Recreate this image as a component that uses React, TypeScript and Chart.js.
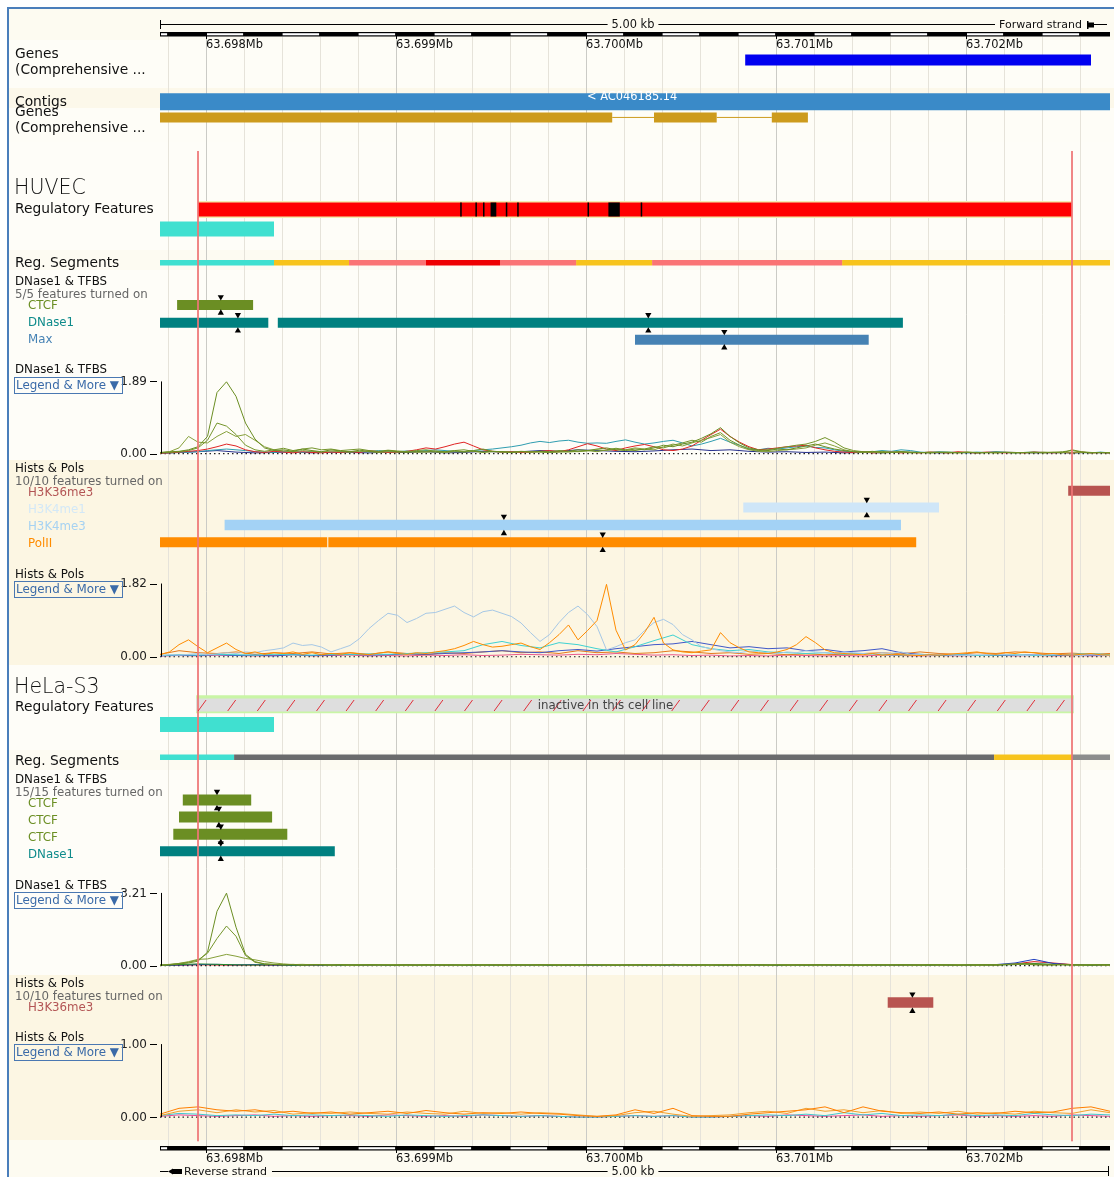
import React, { useEffect, useRef } from "react";
import { Chart, registerables } from "chart.js";

Chart.register(...registerables);

const W = 1114;
const H = 1177;
const X_START = 63.69776;
const X_END = 63.70276;

// ---------- ruler ----------
const MB_TICKS = [63.698, 63.699, 63.7, 63.701, 63.702];
const MB_LABELS = ["63.698Mb", "63.699Mb", "63.700Mb", "63.701Mb", "63.702Mb"];
const GRID_FIRST = 63.6978;
const GRID_STEP = 0.0002;
const SCALE_TEXT = "5.00 kb";

// ---------- annotation features [start, end] (Mb) ----------
const GENE_FWD = [[63.70084, 63.70266]];
const CONTIG = [[63.69776, 63.70276]];
const CONTIG_NAME = "< AC046185.14";
const GENE_REV_EXONS = [[63.6977, 63.70014], [63.70036, 63.70069], [63.70098, 63.70117]];
const GENE_REV_INTRONS = [[63.70014, 63.70036], [63.70069, 63.70098]];
const FOCUS_LINES = [63.69796, 63.70256];

// HUVEC
const HUVEC_REG = [[63.69796, 63.70256]];
const HUVEC_MOTIFS = [
  [63.69934, 63.699348], [63.69942, 63.699428], [63.69946, 63.699468], [63.6995, 63.69953],
  [63.69958, 63.699588], [63.69964, 63.699648], [63.70001, 63.700018], [63.70012, 63.70018],
  [63.70029, 63.700298],
];
const HUVEC_CTCF_REG = [[63.69776, 63.69836]];
const HUVEC_SEG_CTCF = [[63.69776, 63.69836]];
const HUVEC_SEG_WEAK = [[63.69836, 63.698755], [63.69995, 63.70035], [63.70135, 63.70276]];
const HUVEC_SEG_FLANK = [[63.698755, 63.69916], [63.69955, 63.69995], [63.70035, 63.70135]];
const HUVEC_SEG_PROM = [[63.69916, 63.69955]];
const HUVEC_CTCF = [[63.69785, 63.69825]];
const HUVEC_CTCF_MARKS = [63.69808];
const HUVEC_DNASE = [[63.69776, 63.69833], [63.69838, 63.70167]];
const HUVEC_DNASE_MARKS = [63.69817, 63.70033];
const HUVEC_MAX = [[63.70026, 63.70149]];
const HUVEC_MAX_MARKS = [63.70073];
const HUVEC_H3K36 = [[63.70254, 63.70276]];
const HUVEC_H3K4ME1 = [[63.70083, 63.70186]];
const HUVEC_H3K4ME1_MARKS = [63.70148];
const HUVEC_H3K4ME3 = [[63.6981, 63.70166]];
const HUVEC_H3K4ME3_MARKS = [63.69957];
const HUVEC_POLII = [[63.69776, 63.69864], [63.698646, 63.70174]];
const HUVEC_POLII_MARKS = [63.70009];

// HeLa-S3
const HELA_INACTIVE = [[63.69795, 63.70257]];
const HELA_CTCF_REG = [[63.69776, 63.69836]];
const HELA_SEG_CTCF = [[63.69776, 63.69815]];
const HELA_SEG_REPR = [[63.69815, 63.70215]];
const HELA_SEG_WEAK = [[63.70215, 63.70256]];
const HELA_SEG_NA = [[63.70256, 63.70276]];
const HELA_CTCF1 = [[63.69788, 63.69824]];
const HELA_CTCF2 = [[63.69786, 63.69835]];
const HELA_CTCF3 = [[63.69783, 63.69843]];
const HELA_CTCF_MARKS = [63.69806, 63.69807, 63.69808];
const HELA_DNASE = [[63.69776, 63.69868]];
const HELA_DNASE_MARKS = [63.69808];
const HELA_H3K36 = [[63.70159, 63.70183]];
const HELA_H3K36_MARKS = [63.70172];

// ---------- signal tracks (values evenly spaced across the 5 kb window) ----------
// HUVEC DNase1 & TFBS (max 1.89)
const HD_CTCF_A = [
  0.03, 0.05, 0.06, 0.10, 0.18, 0.45, 1.60, 1.88, 1.50, 0.80,
  0.38, 0.15, 0.08, 0.10, 0.06, 0.12, 0.08, 0.05, 0.10, 0.07,
  0.05, 0.09, 0.06, 0.04, 0.08, 0.05, 0.03, 0.06, 0.04, 0.07,
  0.05, 0.08, 0.10, 0.06, 0.04, 0.06, 0.05, 0.03, 0.05, 0.04,
  0.06, 0.05, 0.08, 0.06, 0.10, 0.08, 0.12, 0.15, 0.10, 0.08,
  0.12, 0.10, 0.15, 0.22, 0.18, 0.25, 0.30, 0.40, 0.52, 0.68,
  0.45, 0.28, 0.15, 0.10, 0.08, 0.12, 0.10, 0.15, 0.20, 0.25,
  0.18, 0.12, 0.08, 0.05, 0.04, 0.06, 0.03, 0.04, 0.05, 0.03,
  0.02, 0.04, 0.03, 0.02, 0.03, 0.04, 0.02, 0.03, 0.02, 0.03,
  0.02, 0.03, 0.04, 0.02, 0.03, 0.05, 0.08, 0.04, 0.02, 0.03, 0.02,
];
const HD_CTCF_B = [
  0.02, 0.03, 0.05, 0.08, 0.15, 0.35, 0.80, 0.72, 0.50, 0.22,
  0.10, 0.06, 0.10, 0.14, 0.08, 0.12, 0.15, 0.10, 0.12, 0.08,
  0.10, 0.12, 0.08, 0.06, 0.09, 0.07, 0.05, 0.08, 0.10, 0.06,
  0.04, 0.07, 0.05, 0.08, 0.12, 0.06, 0.05, 0.04, 0.06, 0.05,
  0.04, 0.03, 0.05, 0.04, 0.06, 0.08, 0.05, 0.10, 0.14, 0.10,
  0.08, 0.12, 0.18, 0.15, 0.22, 0.28, 0.35, 0.30, 0.45, 0.55,
  0.35, 0.22, 0.12, 0.08, 0.10, 0.14, 0.18, 0.22, 0.25, 0.32,
  0.42, 0.30, 0.15, 0.08, 0.05, 0.04, 0.06, 0.03, 0.05, 0.04,
  0.03, 0.02, 0.04, 0.03, 0.02, 0.04, 0.03, 0.02, 0.04, 0.03,
  0.02, 0.03, 0.02, 0.04, 0.03, 0.02, 0.10, 0.05, 0.03, 0.02, 0.03,
];
const HD_CTCF_C = [
  0.02, 0.05, 0.15, 0.45, 0.30, 0.28, 0.45, 0.58, 0.45, 0.50,
  0.35, 0.18, 0.10, 0.07, 0.05, 0.08, 0.06, 0.04, 0.07, 0.05,
  0.04, 0.06, 0.05, 0.03, 0.05, 0.04, 0.06, 0.03, 0.05, 0.04,
  0.03, 0.05, 0.04, 0.06, 0.03, 0.05, 0.04, 0.03, 0.05, 0.04,
  0.05, 0.03, 0.04, 0.06, 0.05, 0.07, 0.10, 0.08, 0.12, 0.10,
  0.15, 0.12, 0.10, 0.18, 0.25, 0.20, 0.28, 0.35, 0.42, 0.50,
  0.30, 0.18, 0.10, 0.06, 0.05, 0.08, 0.10, 0.12, 0.15, 0.22,
  0.28, 0.20, 0.10, 0.05, 0.03, 0.04, 0.02, 0.03, 0.04, 0.02,
  0.03, 0.02, 0.03, 0.04, 0.02, 0.03, 0.02, 0.03, 0.02, 0.04,
  0.03, 0.02, 0.03, 0.02, 0.04, 0.03, 0.02, 0.03, 0.02, 0.03, 0.02,
];
const HD_RED = [
  0.01, 0.02, 0.04, 0.06, 0.08, 0.12, 0.18, 0.25, 0.20, 0.10,
  0.05, 0.03, 0.06, 0.04, 0.02, 0.05, 0.03, 0.02, 0.04, 0.03,
  0.05, 0.03, 0.08, 0.05, 0.03, 0.04, 0.06, 0.10, 0.15, 0.12,
  0.18, 0.25, 0.30, 0.20, 0.10, 0.06, 0.04, 0.05, 0.03, 0.04,
  0.06, 0.08, 0.05, 0.10, 0.18, 0.26, 0.20, 0.12, 0.08, 0.15,
  0.20, 0.24, 0.18, 0.10, 0.08, 0.12, 0.20, 0.35, 0.50, 0.64,
  0.45, 0.30, 0.18, 0.10, 0.12, 0.15, 0.18, 0.20, 0.22, 0.15,
  0.10, 0.06, 0.04, 0.03, 0.05, 0.02, 0.03, 0.04, 0.02, 0.03,
  0.02, 0.04, 0.03, 0.02, 0.05, 0.03, 0.02, 0.04, 0.03, 0.02,
  0.03, 0.02, 0.04, 0.03, 0.02, 0.03, 0.02, 0.04, 0.02, 0.03, 0.02,
];
const HD_TEAL = [
  0.01, 0.02, 0.03, 0.04, 0.05, 0.08, 0.10, 0.12, 0.10, 0.08,
  0.05, 0.04, 0.03, 0.05, 0.04, 0.03, 0.06, 0.04, 0.03, 0.05,
  0.04, 0.06, 0.05, 0.08, 0.06, 0.05, 0.07, 0.06, 0.08, 0.10,
  0.08, 0.06, 0.05, 0.08, 0.10, 0.12, 0.15, 0.18, 0.22, 0.28,
  0.32, 0.29, 0.33, 0.35, 0.30, 0.27, 0.28, 0.27, 0.32, 0.36,
  0.30, 0.25, 0.28, 0.32, 0.35, 0.28, 0.20, 0.25, 0.32, 0.40,
  0.30, 0.22, 0.12, 0.10, 0.14, 0.12, 0.15, 0.18, 0.20, 0.16,
  0.15, 0.10, 0.06, 0.05, 0.04, 0.05, 0.08, 0.06, 0.10, 0.08,
  0.04, 0.03, 0.05, 0.04, 0.03, 0.02, 0.04, 0.03, 0.05, 0.03,
  0.02, 0.03, 0.04, 0.03, 0.02, 0.03, 0.02, 0.03, 0.02, 0.04, 0.02,
];
const HD_NAVY = [
  0.01, 0.03, 0.05, 0.08, 0.04, 0.02, 0.03, 0.05, 0.02, 0.04,
  0.03, 0.02, 0.04, 0.03, 0.05, 0.02, 0.03, 0.06, 0.04, 0.05,
  0.08, 0.06, 0.10, 0.08, 0.06, 0.05, 0.07, 0.10, 0.12, 0.08,
  0.10, 0.06, 0.04, 0.05, 0.03, 0.04, 0.02, 0.03, 0.02, 0.04,
  0.03, 0.02, 0.03, 0.02, 0.04, 0.03, 0.02, 0.03, 0.02, 0.03, 0.02,
];

// HUVEC Hists & Pols (max 1.82)
const HH_H3K4ME3 = [
  0.03, 0.05, 0.04, 0.06, 0.08, 0.05, 0.07, 0.10, 0.08, 0.12,
  0.10, 0.15, 0.18, 0.22, 0.34, 0.28, 0.30, 0.24, 0.12, 0.20,
  0.28, 0.45, 0.70, 0.90, 1.08, 1.03, 0.85, 0.95, 1.08, 1.10,
  1.18, 1.26, 1.10, 0.99, 1.12, 1.16, 1.08, 1.00, 0.84, 0.60,
  0.38, 0.55, 0.85, 1.10, 1.26, 1.05, 0.75, 0.17, 0.25, 0.35,
  0.42, 0.65, 0.85, 0.93, 0.80, 0.55, 0.42, 0.25, 0.20, 0.15,
  0.12, 0.10, 0.14, 0.12, 0.10, 0.08, 0.12, 0.10, 0.15, 0.12,
  0.10, 0.08, 0.12, 0.10, 0.08, 0.06, 0.10, 0.08, 0.12, 0.06,
  0.05, 0.04, 0.06, 0.05, 0.04, 0.03, 0.05, 0.04, 0.06, 0.05,
  0.04, 0.03, 0.05, 0.04, 0.06, 0.05, 0.04, 0.03, 0.05, 0.04, 0.03,
];
const HH_POLII = [
  0.05, 0.12, 0.30, 0.42, 0.25, 0.10, 0.22, 0.34, 0.18, 0.08,
  0.12, 0.06, 0.10, 0.08, 0.12, 0.06, 0.10, 0.05, 0.08, 0.06,
  0.10, 0.07, 0.05, 0.09, 0.12, 0.08, 0.06, 0.10, 0.08, 0.12,
  0.15, 0.20, 0.28, 0.38, 0.30, 0.24, 0.26, 0.30, 0.34, 0.25,
  0.18, 0.35, 0.55, 0.79, 0.42, 0.65, 0.90, 1.80, 0.66, 0.17,
  0.30, 0.60, 0.98, 0.34, 0.17, 0.12, 0.10, 0.14, 0.17, 0.60,
  0.35, 0.22, 0.12, 0.10, 0.08, 0.12, 0.18, 0.30, 0.50, 0.35,
  0.17, 0.10, 0.08, 0.06, 0.05, 0.08, 0.04, 0.06, 0.05, 0.04,
  0.03, 0.05, 0.04, 0.06, 0.08, 0.10, 0.12, 0.08, 0.06, 0.10,
  0.08, 0.12, 0.10, 0.06, 0.08, 0.05, 0.04, 0.06, 0.08, 0.05, 0.04,
];
const HH_CYAN = [
  0.03, 0.05, 0.04, 0.06, 0.05, 0.04, 0.06, 0.05, 0.04, 0.06,
  0.05, 0.07, 0.06, 0.08, 0.10, 0.12, 0.15, 0.30, 0.38, 0.28,
  0.22, 0.35, 0.30, 0.20, 0.12, 0.25, 0.40, 0.54, 0.30, 0.20,
  0.15, 0.18, 0.12, 0.10, 0.08, 0.10, 0.06, 0.08, 0.05, 0.04,
  0.06, 0.04, 0.05, 0.03, 0.04, 0.05, 0.03, 0.04, 0.06, 0.08, 0.05,
];
const HH_BLUE = [
  0.02, 0.04, 0.03, 0.05, 0.03, 0.04, 0.02, 0.05, 0.03, 0.04,
  0.06, 0.04, 0.05, 0.07, 0.06, 0.08, 0.10, 0.12, 0.15, 0.12,
  0.10, 0.15, 0.18, 0.14, 0.20, 0.25, 0.30, 0.32, 0.38, 0.30,
  0.22, 0.25, 0.20, 0.22, 0.15, 0.18, 0.12, 0.15, 0.20, 0.10,
  0.06, 0.04, 0.05, 0.03, 0.04, 0.03, 0.05, 0.04, 0.03, 0.04, 0.03,
];
const HH_BROWN = [
  0.06, 0.15, 0.10, 0.08, 0.12, 0.06, 0.10, 0.08, 0.12, 0.07,
  0.10, 0.06, 0.12, 0.08, 0.05, 0.10, 0.08, 0.12, 0.15, 0.10,
  0.12, 0.08, 0.15, 0.10, 0.12, 0.08, 0.10, 0.15, 0.12, 0.08,
  0.10, 0.06, 0.08, 0.05, 0.07, 0.05, 0.06, 0.08, 0.10, 0.07,
  0.12, 0.08, 0.06, 0.10, 0.08, 0.12, 0.10, 0.07, 0.09, 0.06, 0.08,
];
const HH_PINK = [
  0.02, 0.03, 0.02, 0.04, 0.03, 0.02, 0.03, 0.05, 0.02, 0.03,
  0.04, 0.02, 0.03, 0.02, 0.04, 0.03, 0.05, 0.03, 0.04, 0.06,
  0.05, 0.04, 0.06, 0.05, 0.08, 0.06, 0.04, 0.05, 0.03, 0.04,
  0.02, 0.03, 0.02, 0.04, 0.03, 0.02, 0.03, 0.02, 0.04, 0.03,
  0.02, 0.03, 0.02, 0.03, 0.04, 0.02, 0.03, 0.02, 0.03, 0.02, 0.03,
];

// HeLa-S3 DNase1 & TFBS (max 3.21)
const LD_CTCF_A = [
  0.02, 0.04, 0.08, 0.12, 0.20, 0.60, 2.40, 3.20, 1.70, 0.50,
  0.18, 0.08, 0.05, 0.04, 0.06, 0.03, 0.05, 0.04, 0.03, 0.05,
  0.04, 0.03, 0.05, 0.04, 0.03, 0.02, 0.04, 0.03, 0.05, 0.03,
  0.02, 0.04, 0.03, 0.05, 0.03, 0.04, 0.02, 0.03, 0.04, 0.03,
  0.05, 0.03, 0.02, 0.04, 0.03, 0.05, 0.04, 0.03, 0.02, 0.04,
  0.03, 0.05, 0.04, 0.03, 0.06, 0.04, 0.03, 0.05, 0.04, 0.03,
  0.04, 0.02, 0.03, 0.05, 0.04, 0.03, 0.02, 0.04, 0.03, 0.05,
  0.04, 0.03, 0.05, 0.04, 0.02, 0.03, 0.04, 0.03, 0.05, 0.04,
  0.03, 0.05, 0.04, 0.03, 0.02, 0.04, 0.03, 0.05, 0.04, 0.06,
  0.08, 0.10, 0.07, 0.05, 0.04, 0.06, 0.05, 0.04, 0.03, 0.05, 0.04,
];
const LD_CTCF_B = [
  0.02, 0.05, 0.10, 0.15, 0.25, 0.55, 1.20, 1.75, 1.30, 0.45,
  0.15, 0.08, 0.06, 0.04, 0.05, 0.03, 0.04, 0.05, 0.03, 0.04,
  0.03, 0.05, 0.02, 0.04, 0.03, 0.05, 0.04, 0.02, 0.03, 0.04,
  0.05, 0.03, 0.04, 0.02, 0.05, 0.03, 0.04, 0.03, 0.02, 0.04,
  0.03, 0.04, 0.05, 0.03, 0.02, 0.04, 0.03, 0.05, 0.04, 0.03,
  0.05, 0.04, 0.02, 0.04, 0.03, 0.05, 0.04, 0.02, 0.03, 0.05,
  0.03, 0.04, 0.05, 0.03, 0.02, 0.04, 0.05, 0.03, 0.04, 0.02,
  0.05, 0.04, 0.03, 0.02, 0.04, 0.05, 0.03, 0.04, 0.02, 0.03,
  0.04, 0.03, 0.05, 0.04, 0.02, 0.03, 0.05, 0.04, 0.03, 0.05,
  0.06, 0.08, 0.05, 0.04, 0.03, 0.05, 0.04, 0.03, 0.05, 0.04, 0.03,
];
const LD_CTCF_C = [
  0.03, 0.06, 0.10, 0.18, 0.28, 0.30, 0.40, 0.50, 0.42, 0.32,
  0.26, 0.18, 0.12, 0.08, 0.05, 0.06, 0.04, 0.05, 0.03, 0.04,
  0.02, 0.03, 0.04, 0.02, 0.05, 0.03, 0.02, 0.04, 0.03, 0.02,
  0.04, 0.02, 0.03, 0.05, 0.02, 0.04, 0.03, 0.02, 0.04, 0.03,
  0.02, 0.05, 0.03, 0.04, 0.02, 0.03, 0.05, 0.02, 0.04, 0.03,
  0.02, 0.04, 0.03, 0.05, 0.03, 0.02, 0.04, 0.03, 0.02, 0.04,
  0.05, 0.03, 0.02, 0.04, 0.03, 0.05, 0.02, 0.03, 0.04, 0.03,
  0.02, 0.04, 0.03, 0.05, 0.03, 0.02, 0.04, 0.03, 0.05, 0.02,
  0.03, 0.04, 0.02, 0.03, 0.05, 0.04, 0.02, 0.03, 0.04, 0.06,
  0.05, 0.07, 0.04, 0.03, 0.05, 0.04, 0.03, 0.02, 0.04, 0.03, 0.02,
];
const LD_GREEN = [
  0.02, 0.05, 0.08, 0.06, 0.04, 0.03, 0.05, 0.02, 0.04, 0.03,
  0.02, 0.04, 0.03, 0.02, 0.03, 0.04, 0.02, 0.03, 0.02, 0.04,
  0.03, 0.02, 0.04, 0.03, 0.02, 0.03, 0.02, 0.04, 0.03, 0.02,
  0.03, 0.04, 0.02, 0.03, 0.02, 0.04, 0.03, 0.02, 0.03, 0.04,
  0.02, 0.03, 0.04, 0.02, 0.03, 0.05, 0.10, 0.06, 0.03, 0.02, 0.04,
];
const LD_BLUE = [
  0.01, 0.03, 0.05, 0.06, 0.04, 0.05, 0.03, 0.02, 0.03, 0.02,
  0.03, 0.02, 0.01, 0.03, 0.02, 0.03, 0.01, 0.02, 0.03, 0.02,
  0.01, 0.02, 0.03, 0.01, 0.02, 0.03, 0.02, 0.01, 0.03, 0.02,
  0.04, 0.02, 0.03, 0.01, 0.02, 0.03, 0.02, 0.04, 0.02, 0.03,
  0.02, 0.03, 0.02, 0.04, 0.05, 0.12, 0.28, 0.10, 0.04, 0.03, 0.05,
];
const LD_RED = [
  0.01, 0.02, 0.04, 0.03, 0.02, 0.03, 0.02, 0.01, 0.02, 0.03,
  0.02, 0.01, 0.02, 0.04, 0.02, 0.03, 0.01, 0.02, 0.05, 0.02,
  0.03, 0.02, 0.01, 0.02, 0.03, 0.02, 0.04, 0.02, 0.01, 0.02,
  0.03, 0.04, 0.02, 0.03, 0.05, 0.02, 0.03, 0.02, 0.04, 0.02,
  0.03, 0.02, 0.04, 0.02, 0.03, 0.08, 0.18, 0.12, 0.05, 0.02, 0.03,
];

// HeLa-S3 Hists & Pols (max 1.00)
const LH_ORANGE_A = [
  0.04, 0.12, 0.14, 0.10, 0.08, 0.10, 0.06, 0.08, 0.05, 0.07,
  0.04, 0.06, 0.08, 0.05, 0.09, 0.06, 0.04, 0.06, 0.05, 0.07,
  0.05, 0.04, 0.02, 0.01, 0.03, 0.10, 0.05, 0.12, 0.02, 0.01,
  0.01, 0.04, 0.06, 0.08, 0.10, 0.14, 0.06, 0.14, 0.08, 0.06,
  0.05, 0.07, 0.04, 0.06, 0.05, 0.08, 0.06, 0.07, 0.12, 0.14, 0.08,
];
const LH_ORANGE_B = [
  0.02, 0.08, 0.10, 0.06, 0.10, 0.07, 0.09, 0.04, 0.06, 0.05,
  0.07, 0.05, 0.04, 0.07, 0.05, 0.04, 0.08, 0.05, 0.06, 0.04,
  0.06, 0.05, 0.03, 0.01, 0.02, 0.06, 0.08, 0.04, 0.01, 0.02,
  0.03, 0.06, 0.08, 0.05, 0.12, 0.08, 0.10, 0.06, 0.09, 0.05,
  0.07, 0.05, 0.08, 0.04, 0.06, 0.04, 0.08, 0.06, 0.05, 0.10, 0.06,
];
const LH_PINK = [
  0.01, 0.03, 0.02, 0.01, 0.02, 0.03, 0.01, 0.02, 0.01, 0.02,
  0.02, 0.01, 0.03, 0.02, 0.01, 0.02, 0.01, 0.03, 0.02, 0.01,
  0.02, 0.01, 0.00, 0.00, 0.01, 0.02, 0.01, 0.02, 0.00, 0.00,
  0.01, 0.02, 0.01, 0.03, 0.02, 0.01, 0.02, 0.03, 0.01, 0.02,
  0.01, 0.02, 0.03, 0.01, 0.02, 0.01, 0.02, 0.01, 0.03, 0.02, 0.01,
];
const LH_CYAN = [
  0.02, 0.05, 0.04, 0.02, 0.03, 0.02, 0.04, 0.02, 0.03, 0.02,
  0.03, 0.02, 0.01, 0.03, 0.02, 0.01, 0.02, 0.03, 0.02, 0.01,
  0.02, 0.01, 0.00, 0.00, 0.01, 0.02, 0.01, 0.02, 0.00, 0.00,
  0.01, 0.02, 0.03, 0.02, 0.04, 0.02, 0.06, 0.03, 0.05, 0.02,
  0.03, 0.02, 0.04, 0.02, 0.03, 0.02, 0.05, 0.03, 0.02, 0.04, 0.03,
];

// signal track axis maxima
const HD_MAX = 1.89;
const HH_MAX = 1.82;
const LD_MAX = 3.21;
const LH_MAX = 1.0;

// ---------- layout (pixels) ----------
const FONT = "'DejaVu Sans', 'Noto Sans', sans-serif";

function sigRange(zeroPx: number, topPx: number, topVal: number) {
  const k = topVal / (zeroPx - topPx);
  return { min: -(H - zeroPx) * k, max: zeroPx * k };
}

function spans(ranges: number[][], row: number) {
  const out: any[] = [];
  ranges.forEach(([s, e], i) => {
    if (i > 0) out.push({ x: s, y: null });
    out.push({ x: s, y: row }, { x: e, y: row });
  });
  return out;
}

function series(values: number[]) {
  const n = values.length - 1;
  return values.map((v, i) => ({ x: X_START + ((X_END - X_START) * i) / n, y: v }));
}

function bar(ranges: number[][], row: number, width: number, color: string) {
  return {
    type: "line",
    data: spans(ranges, row),
    yAxisID: "yRow",
    borderColor: color,
    borderWidth: width,
    borderCapStyle: "butt",
    pointRadius: 0,
    tension: 0,
    spanGaps: false,
    fill: false,
  };
}

function marks(positions: number[], top: number, bottom: number) {
  const mk = (y: number, rot: number) => ({
    type: "line",
    data: positions.map((x) => ({ x, y })),
    yAxisID: "yRow",
    showLine: false,
    pointStyle: "triangle",
    pointRotation: rot,
    pointRadius: 3.6,
    pointBackgroundColor: "#000",
    pointBorderColor: "#000",
    pointBorderWidth: 0,
  });
  return [mk(top, 180), mk(bottom, 0)];
}

function sig(values: number[], axis: string, color: string) {
  return {
    type: "line",
    data: series(values),
    yAxisID: axis,
    borderColor: color,
    borderWidth: 1,
    pointRadius: 0,
    tension: 0,
    fill: false,
  };
}

function baseline(axis: string) {
  return {
    type: "line",
    data: [{ x: X_START, y: 0 }, { x: X_END, y: 0 }],
    yAxisID: axis,
    borderColor: "#222",
    borderWidth: 1.2,
    borderDash: [1.5, 3],
    pointRadius: 0,
    fill: false,
  };
}

const SIG_AXES = {
  ySigHD: { zero: 452.7, top: 380, max: HD_MAX, label: "1.89" },
  ySigHH: { zero: 657.2, top: 583.5, max: HH_MAX, label: "1.82" },
  ySigLD: { zero: 968.3, top: 895, max: LD_MAX, label: "3.21" },
  ySigLH: { zero: 1120.7, top: 1047.2, max: LH_MAX, label: "1.00" },
};

type Lbl = [string, number, number, string, string];
const F_MAIN = `13.8px ${FONT}`;
const F_SMALL = `11.8px ${FONT}`;
const F_BIG = `200 20.5px ${FONT}`;
const LABELS: Lbl[] = [
  ["Genes", 15, 54, F_MAIN, "#111"],
  ["(Comprehensive ...", 15, 70, F_MAIN, "#111"],
  ["Contigs", 15, 102, F_MAIN, "#111"],
  ["Genes", 15, 112, F_MAIN, "#111"],
  ["(Comprehensive ...", 15, 128, F_MAIN, "#111"],
  ["HUVEC", 14, 189, F_BIG, "#111"],
  ["Regulatory Features", 15, 209.5, F_MAIN, "#111"],
  ["Reg. Segments", 15, 263.5, F_MAIN, "#111"],
  ["DNase1 & TFBS", 15, 282, F_SMALL, "#111"],
  ["5/5 features turned on", 15, 294.5, F_SMALL, "#666"],
  ["CTCF", 28, 305.5, F_SMALL, "#6b8e23"],
  ["DNase1", 28, 322.5, F_SMALL, "#0f8b8b"],
  ["Max", 28, 340, F_SMALL, "#4682b4"],
  ["DNase1 & TFBS", 15, 370, F_SMALL, "#111"],
  ["Hists & Pols", 15, 468.5, F_SMALL, "#111"],
  ["10/10 features turned on", 15, 482, F_SMALL, "#666"],
  ["H3K36me3", 28, 493, F_SMALL, "#b35555"],
  ["H3K4me1", 28, 510, F_SMALL, "#d3e8f7"],
  ["H3K4me3", 28, 527, F_SMALL, "#a6d2f2"],
  ["PolII", 28, 544, F_SMALL, "#ff8c00"],
  ["Hists & Pols", 15, 575, F_SMALL, "#111"],
  ["HeLa-S3", 14, 688, F_BIG, "#111"],
  ["Regulatory Features", 15, 707.5, F_MAIN, "#111"],
  ["Reg. Segments", 15, 761.5, F_MAIN, "#111"],
  ["DNase1 & TFBS", 15, 780, F_SMALL, "#111"],
  ["15/15 features turned on", 15, 792.5, F_SMALL, "#666"],
  ["CTCF", 28, 803.5, F_SMALL, "#6b8e23"],
  ["CTCF", 28, 821, F_SMALL, "#6b8e23"],
  ["CTCF", 28, 837.5, F_SMALL, "#6b8e23"],
  ["DNase1", 28, 855, F_SMALL, "#0f8b8b"],
  ["DNase1 & TFBS", 15, 886, F_SMALL, "#111"],
  ["Hists & Pols", 15, 984, F_SMALL, "#111"],
  ["10/10 features turned on", 15, 996.5, F_SMALL, "#666"],
  ["H3K36me3", 28, 1008, F_SMALL, "#b35555"],
  ["Hists & Pols", 15, 1038, F_SMALL, "#111"],
];
const LEGEND_BOXES = [386, 590, 901, 1053];

const BANDS: [number, number, string][] = [
  [9, 40, "#fdfbf1"],
  [40, 88, "#fefdf7"],
  [88, 108, "#fcf8ea"],
  [108, 142, "#fefdf7"],
  [142, 250, "#fefdf8"],
  [250, 270, "#fdfbf2"],
  [270, 460, "#fefdf8"],
  [460, 665, "#fcf6e3"],
  [665, 750, "#fefdf8"],
  [750, 770, "#fdfbf2"],
  [770, 975, "#fefdf8"],
  [975, 1140, "#fcf6e3"],
  [1140, 1177, "#fdfbf1"],
];

const decor = {
  id: "decor",
  beforeDraw(chart: any) {
    const ctx = chart.ctx;
    ctx.save();
    ctx.fillStyle = "#ffffff";
    ctx.fillRect(0, 0, W, H);
    for (const [a, b, c] of BANDS) {
      ctx.fillStyle = c;
      ctx.fillRect(9, a, W - 9, b - a);
    }
    ctx.fillStyle = "#4a7ebb";
    ctx.fillRect(7, 7, 2, H - 7);
    ctx.fillRect(7, 7, W - 7, 2);
    ctx.restore();
  },
  beforeDatasetsDraw(chart: any) {
    const ctx = chart.ctx;
    const xs = chart.scales.x;
    ctx.save();
    for (let k = 0; GRID_FIRST + k * GRID_STEP <= X_END + 1e-9; k++) {
      const v = GRID_FIRST + k * GRID_STEP;
      const major = MB_TICKS.some((t) => Math.abs(t - v) < 1e-7);
      const px = Math.round(xs.getPixelForValue(v)) + 0.5;
      ctx.strokeStyle = major ? "#cbcbc6" : "#e6e3da";
      ctx.lineWidth = 1;
      ctx.beginPath();
      ctx.moveTo(px, 37);
      ctx.lineTo(px, 1146);
      ctx.stroke();
    }
    ctx.restore();
  },
  afterDatasetsDraw(chart: any) {
    const ctx = chart.ctx;
    const xs = chart.scales.x;
    const L = xs.getPixelForValue(X_START);
    const R = xs.getPixelForValue(X_END);
    ctx.save();

    // ----- rulers -----
    const rulerBar = (yTop: number, labelY: number) => {
      ctx.fillStyle = "#000";
      ctx.fillRect(L, yTop, R - L, 4.5);
      ctx.fillStyle = "#fff";
      for (let v = GRID_FIRST - GRID_STEP; v < X_END; v += 2 * GRID_STEP) {
        const a = Math.max(v, X_START);
        const b = Math.min(v + GRID_STEP, X_END);
        const pa = xs.getPixelForValue(a);
        const pb = xs.getPixelForValue(b);
        ctx.fillRect(pa + 1, yTop + 1.2, pb - pa - 1.5, 2.1);
      }
      ctx.fillStyle = "#000";
      ctx.font = `11.4px ${FONT}`;
      ctx.textBaseline = "middle";
      ctx.textAlign = "left";
      MB_TICKS.forEach((t, i) => {
        const px = Math.round(xs.getPixelForValue(t));
        ctx.fillRect(px, yTop, 1, 7);
        ctx.fillStyle = "#111";
        ctx.fillText(MB_LABELS[i], px, labelY);
        ctx.fillStyle = "#000";
      });
    };
    rulerBar(32, 45);
    rulerBar(1146, 1159.5);

    // scale line top
    ctx.font = `11.4px ${FONT}`;
    ctx.textBaseline = "middle";
    const mid = xs.getPixelForValue((X_START + X_END) / 2) - 2;
    const sw = ctx.measureText(SCALE_TEXT).width;
    ctx.strokeStyle = "#000";
    ctx.lineWidth = 1;
    const hline = (a: number, b: number, y: number) => {
      ctx.beginPath();
      ctx.moveTo(a, y + 0.5);
      ctx.lineTo(b, y + 0.5);
      ctx.stroke();
    };
    const fwd = "Forward strand";
    ctx.font = `11px ${FONT}`;
    const fw = ctx.measureText(fwd).width;
    hline(L, mid - sw / 2 - 4, 24);
    hline(mid + sw / 2 + 4, 1082 - fw - 4, 24);
    ctx.fillStyle = "#111";
    ctx.textAlign = "right";
    ctx.fillText(fwd, 1082, 25);
    ctx.font = `11.4px ${FONT}`;
    ctx.textAlign = "center";
    ctx.fillText(SCALE_TEXT, mid, 25);
    ctx.fillStyle = "#000";
    ctx.fillRect(1087, 21, 1.5, 8);
    ctx.fillRect(1088, 22.5, 6, 5);
    hline(1094, R - 3, 24);
    ctx.fillRect(L, 20, 1, 9);

    // scale line bottom
    ctx.font = `11px ${FONT}`;
    const rev = "Reverse strand";
    const rw = ctx.measureText(rev).width;
    hline(L, 168, 1171);
    ctx.beginPath();
    ctx.moveTo(168, 1171.5);
    ctx.lineTo(173, 1168.5);
    ctx.lineTo(173, 1174.5);
    ctx.closePath();
    ctx.fill();
    ctx.fillRect(173, 1169, 9, 5);
    ctx.fillStyle = "#111";
    ctx.textAlign = "left";
    ctx.fillText(rev, 184, 1172);
    hline(184 + rw + 5, mid - sw / 2 - 4, 1171);
    ctx.font = `11.4px ${FONT}`;
    ctx.textAlign = "center";
    ctx.fillText(SCALE_TEXT, mid, 1172);
    hline(mid + sw / 2 + 4, R - 1, 1171);
    ctx.fillStyle = "#000";
    ctx.fillRect(R - 2, 1166, 1, 10);

    // contig name
    ctx.fillStyle = "#ffffff";
    ctx.font = `11.4px ${FONT}`;
    ctx.textAlign = "left";
    ctx.fillText(CONTIG_NAME, 587, 97.5);

    // inactive hatching + text
    const ia = xs.getPixelForValue(HELA_INACTIVE[0][0]);
    const ib = xs.getPixelForValue(HELA_INACTIVE[0][1]);
    ctx.strokeStyle = "#e0303a";
    ctx.lineWidth = 1;
    for (let px = ia + 2; px < ib - 10; px += 29.6) {
      ctx.beginPath();
      ctx.moveTo(px, 711);
      ctx.lineTo(px + 8, 700);
      ctx.stroke();
    }
    ctx.fillStyle = "#444";
    ctx.font = `11.8px ${FONT}`;
    ctx.textAlign = "center";
    ctx.fillText("inactive in this cell line", 605.5, 705.5);

    // left labels
    ctx.textAlign = "left";
    ctx.textBaseline = "middle";
    for (const [t, x, y, f, c] of LABELS) {
      ctx.font = f;
      ctx.fillStyle = c;
      ctx.fillText(t, x, y);
    }

    // signal axes
    for (const id of Object.keys(SIG_AXES)) {
      const s = (SIG_AXES as any)[id];
      const sc = chart.scales[id];
      const p0 = sc.getPixelForValue(0);
      const p1 = sc.getPixelForValue(s.max);
      ctx.fillStyle = "#000";
      ctx.fillRect(161, p1, 1, p0 - p1);
      ctx.fillRect(150, Math.round(p1), 7, 1);
      ctx.fillRect(150, Math.round(p0), 7, 1);
      ctx.font = `12px ${FONT}`;
      ctx.textAlign = "right";
      ctx.fillStyle = "#222";
      ctx.fillText(s.label, 147, p1 + 0.5);
      ctx.fillText("0.00", 147, p0 + 0.5);
    }

    // legend boxes
    for (const y of LEGEND_BOXES) {
      ctx.strokeStyle = "#4a78b2";
      ctx.lineWidth = 1;
      ctx.strokeRect(14.5, y - 8.5, 108, 16);
      ctx.fillStyle = "#3a6aa8";
      ctx.font = `11.9px ${FONT}`;
      ctx.textAlign = "left";
      ctx.fillText("Legend & More \u25BC", 16, y);
    }
    ctx.restore();
  },
};

export default function App() {
  const ref = useRef<HTMLCanvasElement | null>(null);

  useEffect(() => {
    if (!ref.current) return;
    const paint: any[] = [];
    // reg segments
    paint.push(bar(HUVEC_SEG_CTCF, 260.5, 5.5, "#40e0d0"));
    paint.push(bar(HUVEC_SEG_WEAK, 260.5, 5.5, "#f7c31a"));
    paint.push(bar(HUVEC_SEG_FLANK, 260.5, 5.5, "#fa7373"));
    paint.push(bar(HUVEC_SEG_PROM, 260.5, 5.5, "#ee0000"));
    paint.push(bar(HELA_SEG_CTCF, 758.5, 5.5, "#40e0d0"));
    paint.push(bar(HELA_SEG_REPR, 758.5, 5.5, "#6a6a6a"));
    paint.push(bar(HELA_SEG_WEAK, 758.5, 5.5, "#f7c31a"));
    paint.push(bar(HELA_SEG_NA, 758.5, 5.5, "#8c8c8c"));
    // genes + contig
    paint.push(bar(GENE_FWD, 56.3, 11, "#0000f0"));
    paint.push(bar(CONTIG, 98.5, 17, "#3a8ac8"));
    paint.push(bar(GENE_REV_INTRONS, 114.2, 1, "#cd9b1d"));
    paint.push(bar(GENE_REV_EXONS, 114.2, 10, "#cd9b1d"));
    // regulatory features
    paint.push(bar(HUVEC_REG, 206.8, 17, "#f3ecb0"));
    paint.push(bar(HUVEC_REG, 206.8, 14, "#ff0000"));
    paint.push(bar(HUVEC_MOTIFS, 206.8, 14, "#000000"));
    paint.push(bar(HUVEC_CTCF_REG, 226.5, 15, "#40e0d0"));
    paint.push(bar(HELA_INACTIVE, 705, 18, "#c9f5a6"));
    paint.push(bar(HELA_INACTIVE, 705.8, 13, "#dedede"));
    paint.push(bar(HELA_CTCF_REG, 725.5, 15, "#40e0d0"));
    // HUVEC DNase1 & TFBS features
    paint.push(bar(HUVEC_CTCF, 303, 10, "#6b8e23"));
    paint.push(bar(HUVEC_DNASE, 321, 10, "#008080"));
    paint.push(bar(HUVEC_MAX, 338, 10, "#4682b4"));
    // HUVEC hists features
    paint.push(bar(HUVEC_H3K36, 490, 10, "#b85450"));
    paint.push(bar(HUVEC_H3K4ME1, 507, 10, "#cfe6f8"));
    paint.push(bar(HUVEC_H3K4ME3, 524.5, 10.5, "#a3d2f5"));
    paint.push(bar(HUVEC_POLII, 542, 10, "#ff8c00"));
    // HeLa features
    paint.push(bar(HELA_CTCF1, 801.5, 11, "#6b8e23"));
    paint.push(bar(HELA_CTCF2, 818.5, 11, "#6b8e23"));
    paint.push(bar(HELA_CTCF3, 836, 11, "#6b8e23"));
    paint.push(bar(HELA_DNASE, 853, 10, "#008080"));
    paint.push(bar(HELA_H3K36, 1005.3, 10.5, "#b85450"));
    // signals: HUVEC DNase
    paint.push(sig(HD_NAVY, "ySigHD", "#26308e"));
    paint.push(baseline("ySigHD"));
    paint.push(sig(HD_TEAL, "ySigHD", "#2f9db0"));
    paint.push(sig(HD_RED, "ySigHD", "#e02424"));
    paint.push(sig(HD_CTCF_C, "ySigHD", "#86a03a"));
    paint.push(sig(HD_CTCF_B, "ySigHD", "#74952b"));
    paint.push(sig(HD_CTCF_A, "ySigHD", "#6b8e23"));
    // HUVEC hists
    paint.push(sig(HH_PINK, "ySigHH", "#ea5a8c"));
    paint.push(baseline("ySigHH"));
    paint.push(sig(HH_BROWN, "ySigHH", "#e4781a"));
    paint.push(sig(HH_BLUE, "ySigHH", "#4058c8"));
    paint.push(sig(HH_CYAN, "ySigHH", "#3fd2d2"));
    paint.push(sig(HH_H3K4ME3, "ySigHH", "#a6c8e6"));
    paint.push(sig(HH_POLII, "ySigHH", "#ff8c00"));
    // HeLa DNase
    paint.push(sig(LD_RED, "ySigLD", "#d82020"));
    paint.push(baseline("ySigLD"));
    paint.push(sig(LD_BLUE, "ySigLD", "#2040c0"));
    paint.push(sig(LD_GREEN, "ySigLD", "#2a8a2a"));
    paint.push(sig(LD_CTCF_C, "ySigLD", "#86a03a"));
    paint.push(sig(LD_CTCF_B, "ySigLD", "#74952b"));
    paint.push(sig(LD_CTCF_A, "ySigLD", "#6b8e23"));
    // HeLa hists
    paint.push(sig(LH_PINK, "ySigLH", "#ea4aa0"));
    paint.push(baseline("ySigLH"));
    paint.push(sig(LH_CYAN, "ySigLH", "#40c8d0"));
    paint.push(sig(LH_ORANGE_B, "ySigLH", "#f0a030"));
    paint.push(sig(LH_ORANGE_A, "ySigLH", "#ff7f00"));
    // focus lines
    FOCUS_LINES.forEach((p) => {
      paint.push({
        type: "line",
        data: [{ x: p, y: 148 }, { x: p, y: 1145 }],
        yAxisID: "yRow",
        borderColor: "#ee7777",
        borderWidth: 1,
        pointRadius: 0,
        fill: false,
      });
    });
    // markers
    paint.push(...marks(HUVEC_CTCF_MARKS, 295, 311));
    paint.push(...marks(HUVEC_DNASE_MARKS, 313, 329));
    paint.push(...marks(HUVEC_MAX_MARKS, 330, 346));
    paint.push(...marks(HUVEC_H3K4ME1_MARKS, 499, 515));
    paint.push(...marks(HUVEC_H3K4ME3_MARKS, 516, 533));
    paint.push(...marks(HUVEC_POLII_MARKS, 534, 550));
    paint.push(...marks([HELA_CTCF_MARKS[0]], 793, 810));
    paint.push(...marks([HELA_CTCF_MARKS[1]], 810, 827));
    paint.push(...marks([HELA_CTCF_MARKS[2]], 828, 844));
    paint.push(...marks(HELA_DNASE_MARKS, 845, 861));
    paint.push(...marks(HELA_H3K36_MARKS, 997, 1014));

    const n = paint.length;
    paint.forEach((d, i) => {
      d.order = n - i;
      d.xAxisID = "x";
    });

    const sigScales: any = {};
    for (const id of Object.keys(SIG_AXES)) {
      const s = (SIG_AXES as any)[id];
      const r = sigRange(s.zero, s.top, s.max);
      sigScales[id] = { type: "linear", axis: "y", position: "left", display: false, min: r.min, max: r.max };
    }

    const chart = new Chart(ref.current, {
      type: "line",
      data: { datasets: paint },
      options: {
        animation: false,
        responsive: false,
        devicePixelRatio: 1,
        events: [],
        layout: { padding: { left: 160, right: 4, top: 0, bottom: 0 } },
        plugins: { legend: { display: false }, tooltip: { enabled: false } },
        scales: {
          x: { type: "linear", axis: "x", position: "bottom", display: false, min: X_START, max: X_END },
          yRow: { type: "linear", axis: "y", position: "left", display: false, min: 0, max: H, reverse: true },
          ...sigScales,
        },
      } as any,
      plugins: [decor],
    } as any);
    return () => chart.destroy();
  }, []);

  return (
    <canvas
      ref={ref}
      width={W}
      height={H}
      style={{ position: "absolute", left: 0, top: 0, width: W, height: H }}
    />
  );
}
